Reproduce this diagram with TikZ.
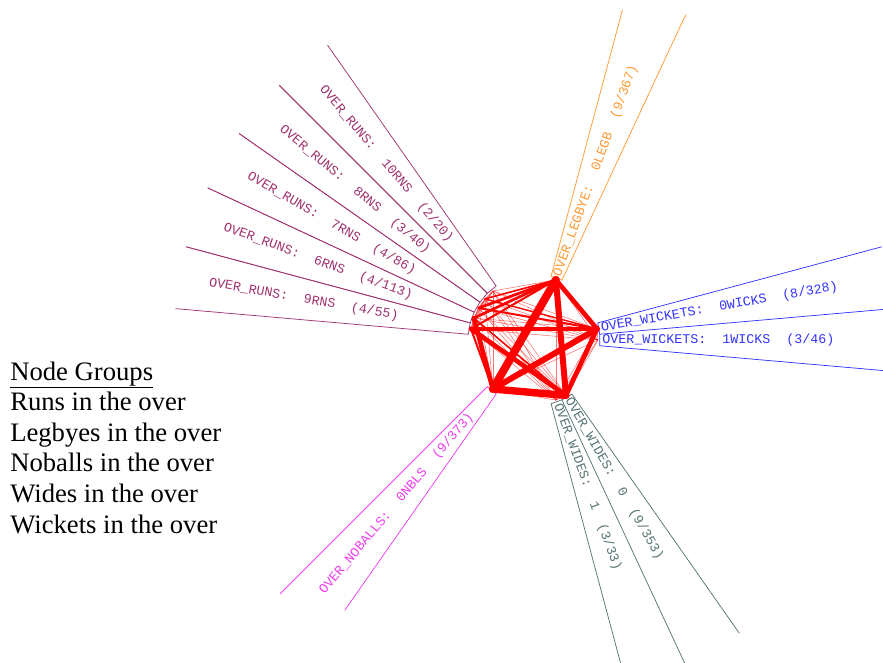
\documentclass[tikz,border=0pt]{standalone}
\usepackage{fontspec}
\setmainfont{Liberation Serif}
\setmonofont{Liberation Mono}
\usetikzlibrary{calc}

\definecolor{runcol}{RGB}{160,50,110}
\definecolor{legcol}{RGB}{255,153,51}
\definecolor{wickcol}{RGB}{51,51,255}
\definecolor{noblcol}{RGB}{238,60,238}
\definecolor{widecol}{RGB}{85,115,115}

\begin{document}
\begin{tikzpicture}[x=0.75pt, y=0.75pt,
  wedge/.style={line width=0.55pt},
  lab/.style={font=\fontsize{10}{12}\ttfamily\frenchspacing, inner sep=0pt, anchor=west},
  edge/.style={red, line cap=round},
  faint/.style={red, line width=0.4pt, opacity=0.55},
  legend/.style={font=\fontsize{20}{23}\selectfont, inner sep=0pt, anchor=base west}
]
  \useasboundingbox (-534,-322) rectangle (349,340);
  \clip (-534,-322) rectangle (349,340);

  % wedges round the ring
  \foreach \a/\b in {125/135,135/145,145/155,155/165,165/175}
    \draw[wedge, runcol] (\a:360) -- (\a:66) -- (\b:66) -- (\b:360);
  \draw[wedge, legcol] (65:359) -- (65:66) -- (75:66) -- (75:342);
  \draw[wedge, wickcol] (15:360) -- (15:66) -- (5:66) -- (5:400);
  \draw[wedge, wickcol] (5:66) -- (-5:66) -- (-5:400);
  \draw[wedge, widecol] (-55:358) -- (-55:66) -- (-65:66) -- (-65:400);
  \draw[wedge, widecol] (-65:66) -- (-75:66) -- (-75:400);
  \draw[wedge, noblcol] (225:359) -- (225:66) -- (235:66) -- (235:330);

  % labels
  \node[lab, runcol, rotate=-50] (run10) at (130:330) {OVER\_RUNS:\ \ 10RNS\ \ (2/20)};
  \node[lab, runcol, rotate=-40] (run8) at (140:330) {OVER\_RUNS:\ \ 8RNS\ \ (3/40)};
  \node[lab, runcol, rotate=-30] (run7) at (150:330) {OVER\_RUNS:\ \ 7RNS\ \ (4/86)};
  \node[lab, runcol, rotate=-20] (run6) at (160:330) {OVER\_RUNS:\ \ 6RNS\ \ (4/113)};
  \node[lab, runcol, rotate=-10] (run9) at (170:330) {OVER\_RUNS:\ \ 9RNS\ \ (4/55)};
  \node[lab, legcol, rotate=70] (legb0) at (70:68) {OVER\_LEGBYE:\ \ 0LEGB\ \ (9/367)};
  \node[lab, wickcol, rotate=10] (wick0) at (10:68) {OVER\_WICKETS:\ \ 0WICKS\ \ (8/328)};
  \node[lab, wickcol] (wick1) at (0:68) {OVER\_WICKETS:\ \ 1WICKS\ \ (3/46)};
  \node[lab, widecol, rotate=-60] (wide0) at (-60:68) {OVER\_WIDES:\ \ 0\ \ (9/353)};
  \node[lab, widecol, rotate=-70] (wide1) at (-70:68) {OVER\_WIDES:\ \ 1\ \ (3/33)};
  \node[lab, noblcol, rotate=50] (nobl0) at (230:330) {OVER\_NOBALLS:\ \ 0NBLS\ \ (9/373)};

  % ring points
  \coordinate (r10) at (130:64);
  \coordinate (r8) at (140:64);
  \coordinate (r7) at (150:64);
  \coordinate (r6) at (160:64);
  \coordinate (r9) at (170:64);
  \coordinate (lb) at (70:64);
  \coordinate (wk0) at (10:64);
  \coordinate (wk1) at (0:64);
  \coordinate (wd0) at (-60:64);
  \coordinate (wd1) at (-70:64);
  \coordinate (nb) at (230:64);

  % thin links
  \foreach \u in {r10,r8,r7,r6,r9}
    \foreach \v in {lb,wk0,wk1,wd0,wd1,nb}
      \draw[faint] (\u) -- (\v);
  \foreach \u/\v in {r10/r8,r10/r7,r10/r6,r10/r9,r8/r7,r8/r6,r8/r9,r7/r6,r7/r9,r6/r9,
                     lb/wk1,lb/wd1,nb/wk1,nb/wd1,wk1/wd0,wk1/wd1,wk0/wk1,wd0/wd1,wk0/wd1}
    \draw[faint] (\u) -- (\v);

  % heavy links
  \draw[edge, line width=6pt] (lb) -- (nb);
  \draw[edge, line width=5.5pt] (nb) -- (wd0);
  \draw[edge, line width=4.5pt] (lb) -- (wd0);
  \draw[edge, line width=4.5pt] (nb) -- (wk0);
  \draw[edge, line width=3.5pt] (lb) -- (wk0);
  \draw[edge, line width=3.5pt] (wk0) -- (wd0);
  \draw[edge, line width=3pt] (r9) -- (wk0);
  \draw[edge, line width=3.5pt] (r6) -- (nb);
  \draw[edge, line width=3.5pt] (r9) -- (wd0);
  \draw[edge, line width=2pt] (r7) -- (lb);
  \draw[edge, line width=2pt] (r6) -- (lb);
  \draw[edge, line width=1.5pt] (r9) -- (lb);
  \draw[edge, line width=1.5pt] (r7) -- (wk0);
  \draw[edge, line width=1.5pt] (r9) -- (nb);
  \draw[edge, line width=1.2pt] (r6) -- (wd0);
  \draw[edge, line width=1.2pt] (r8) -- (lb);
  \draw[edge, line width=1pt] (r8) -- (wk0);

  % legend
  \node[legend] (lghead) at (-524,-40) {\underline{Node Groups}};
  \foreach \t [count=\i] in {Runs in the over, Legbyes in the over, Noballs in the over, Wides in the over, Wickets in the over}
    \node[legend] (lg\i) at (-524,-40-30.6*\i) {\t};
\end{tikzpicture}
\end{document}
